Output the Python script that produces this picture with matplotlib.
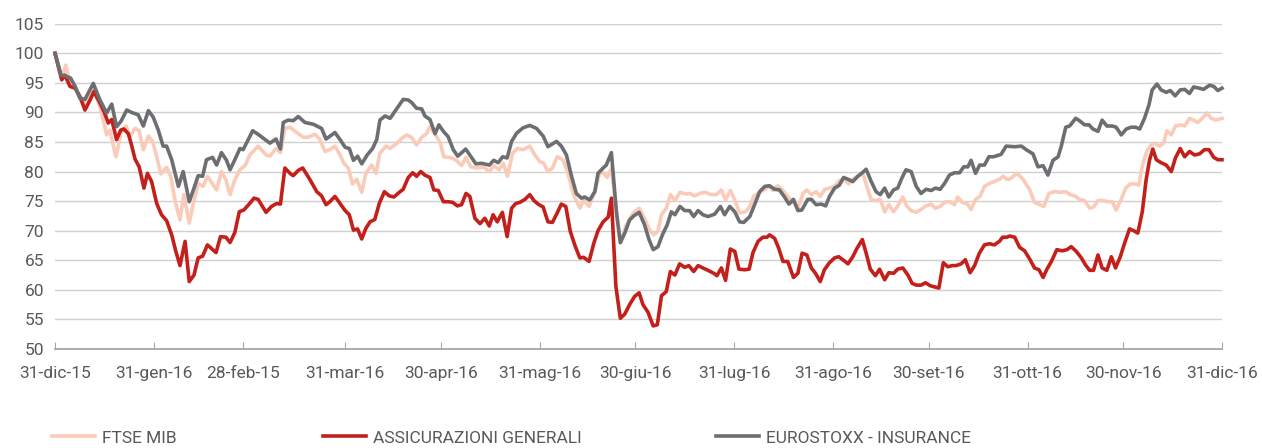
import numpy as np
import matplotlib
matplotlib.use('Agg')
import matplotlib.pyplot as plt
from matplotlib import font_manager

# day offsets from 31-dic-15 and index values (base 100)
ftse_days = [0, 2.1, 3.4, 4.5, 6.3, 8.4, 9.9, 12, 14.1, 16.2, 17.2, 19.1, 20.7, 22.3, 23.5, 25.1, 26.4, 27.7, 29.3, 30.6,
             31.9, 33.2, 35, 36.3, 37.6, 39.2, 40.4, 42.1, 43.4, 44.9, 46.5, 47.8, 50.7, 52.2, 53.6, 54.9, 56.4, 58, 59.6, 61.1,
             63.7, 66.2, 67.4, 69.3, 70.7, 72.1, 73.7, 75.3, 77.9, 79.4, 81.5, 83.1, 84.7, 86.2, 87.8, 89.4, 90.6, 92, 93.3, 94.6,
             96.2, 97.5, 99.3, 100.7, 101.9, 103.8, 105.1, 107.1, 108.7, 110.3, 111.8, 113.4, 115, 116.5, 117.6, 119.7, 120.9, 121.9, 123.9, 125.9,
             127.5, 128.9, 130.4, 132.2, 134.3, 136.2, 137.6, 139.3, 140.6, 141.9, 143.5, 145, 146.8, 148.9, 150.5, 152, 153.3, 154.6, 156, 157.5,
             159.3, 160.9, 162.5, 164.6, 165.8, 167.5, 169.3, 170.8, 171.9, 173.2, 174.5, 177.3, 179.2, 181.3, 183.2, 184.9, 186.5, 187.8, 189.1, 190.2,
             191.7, 193, 194.4, 196, 197.8, 199, 200.6, 202.2, 203.8, 205.9, 207.4, 209, 210.3, 211.8, 213.2, 214.7, 216.6, 217.9, 219.1, 221,
             222.6, 224.1, 225.1, 226.7, 228.3, 229.8, 231.4, 233, 234.6, 235.8, 237.2, 238.7, 240, 241.4, 242.9, 244.5, 246, 247.6, 248.9, 250.2,
             251.8, 253.4, 254.6, 256, 257.5, 258.8, 260.2, 261.5, 263, 264.3, 265.9, 267.1, 268.5, 270.1, 271.6, 273.2, 274.8, 276.1, 277.6, 279.3,
             280.7, 282.1, 283.1, 284.5, 286, 287.3, 288.7, 290.1, 291.5, 293.1, 294.6, 296.2, 297.4, 298.5, 299.4, 301.7, 303.6, 305.7, 307.2, 308.6,
             310.1, 311.7, 313.5, 315.1, 317, 318.4, 319.8, 321.3, 322.9, 324.5, 325.7, 327.1, 328.7, 330.2, 331.6, 332.8, 334.4, 335.8, 337.2, 338.9,
             339.9, 341.2, 342.4, 343.8, 344.9, 346.4, 347.7, 348.7, 350.1, 351.4, 353.2, 354.3, 355.8, 357.1, 358.4, 359.8, 361.3, 362.6, 364, 366]
ftse_vals = [100, 96, 98, 95.2, 94.4, 91.8, 91.5, 93.8, 91, 86.2, 87, 82.5, 86.5, 87.7, 85.9, 87.3, 86.9, 83.7, 86, 85.1,
             82.5, 79.6, 80.7, 79.2, 75.2, 71.8, 76.1, 71.3, 74.6, 78, 77.5, 79.2, 76.9, 80, 78.6, 76.1, 78.6, 80.3, 81, 82.8,
             84.3, 82.8, 82.6, 83.9, 83.2, 87.3, 87.5, 86.8, 85.8, 85.8, 86.3, 85.4, 83.4, 83.7, 84.3, 82.8, 81.4, 80.6, 77.9, 78.7,
             76.5, 79.7, 81.1, 79.7, 83.1, 84.3, 83.9, 84.7, 85.6, 86.2, 85.8, 84.5, 85.8, 86.4, 87.6, 85.9, 84.8, 82.5, 82.4, 81.9,
             81, 82.4, 80.8, 80.6, 80.8, 80, 81, 80.3, 81.4, 79.2, 83.1, 83.9, 83.7, 84.3, 82.8, 81.7, 81.4, 80, 80.6, 82.5,
             82, 79.7, 76.3, 73.8, 75.2, 74.1, 76.6, 79.7, 79.8, 79, 80.5, 67.9, 71, 73, 73.8, 72.1, 70.1, 69.3, 69.9, 72.7,
             73.8, 76.1, 75.1, 76.5, 76.2, 76.3, 75.9, 76.3, 76.5, 76.1, 76.1, 76.9, 75.2, 76.8, 75.2, 73, 73.2, 74.1, 75.8, 76.5,
             77, 77.5, 76.8, 77.6, 76.8, 75.8, 74.9, 73.8, 76.3, 76.9, 76.1, 76.6, 75.8, 77, 77.2, 77.5, 78.5, 78.6, 77.9, 78.7,
             79.3, 79.6, 77.5, 75.2, 75.1, 75.3, 73.2, 74.4, 73.2, 74.2, 75.7, 74.2, 73.4, 73.1, 73.6, 74.2, 74.5, 73.8, 74.1, 74.9,
             74.9, 74.4, 75.7, 74.8, 74.6, 73.6, 75.3, 75.8, 77.5, 78, 78.3, 78.7, 79.2, 78.7, 78.7, 79.7, 78.7, 76.9, 74.8, 74.5,
             74.1, 76.3, 76.6, 76.5, 76.6, 76.1, 75.9, 75.3, 75.1, 73.8, 74, 75.1, 75.1, 74.9, 74.9, 73.5, 75.3, 77.2, 77.9, 77.9,
             77.7, 81.4, 83.4, 84.5, 84.8, 84.3, 84.8, 86.9, 86.2, 87.7, 87.9, 87.7, 89, 88.7, 88.3, 89, 89.9, 89, 88.7, 89]

gen_days = [0, 2.1, 3.1, 4.7, 6.3, 7.8, 9.4, 11, 12.2, 13.9, 15.4, 16.7, 17.8, 19.3, 20.6, 21.6, 23, 24, 25.1, 26.4,
            27.9, 29, 30.3, 31.9, 33.4, 35, 36.6, 37.9, 39.2, 40.8, 42.1, 43.6, 44.9, 46.3, 47.8, 50.5, 51.9, 53.6, 54.9, 56.4,
            57.8, 59.2, 60.9, 62.4, 63.7, 66.2, 67.9, 69.5, 70.7, 72.1, 73.7, 74.7, 76.3, 77.7, 80, 82.1, 83.6, 85, 86.2, 87.8,
            89.4, 91, 92.3, 93.6, 94.9, 96.2, 97.5, 98.8, 100.3, 101.7, 103.3, 104.8, 106.3, 108, 109.2, 110.8, 112.2, 113.4, 114.7, 116,
            117.6, 118.8, 120.2, 121.8, 123.3, 124.7, 126.2, 127.5, 128.9, 130.1, 131.7, 133.3, 134.8, 136.2, 137.4, 138.7, 140.3, 141.8, 143.2, 144.5,
            145.8, 147.4, 148.9, 150.2, 151.5, 153.1, 154.6, 156, 157.5, 158.8, 160.2, 161.6, 163, 164.6, 165.8, 167.5, 169, 170.3, 171.9, 173.5,
            174.5, 175.9, 177.3, 178.7, 180.2, 181.8, 183.2, 184.4, 186, 187.6, 188.9, 190.2, 191.7, 193, 194.4, 195.9, 197.5, 198.8, 200.3, 201.7,
            203.2, 204.8, 206.6, 207.6, 209, 210.3, 211.8, 213.2, 214.5, 216.3, 217.7, 218.9, 220.5, 222, 223.3, 224.1, 225.7, 227, 228.3, 229.8,
            231.6, 233, 234.3, 235.8, 237.2, 238.5, 240, 241.3, 242.9, 244.5, 245.8, 247.3, 248.7, 250.2, 251.5, 253.2, 254.4, 255.7, 257.3, 258.6,
            260.2, 261.5, 263, 264.3, 265.9, 267.5, 268.8, 270.1, 271.6, 273, 274.5, 275.8, 277.2, 278.6, 280, 281.4, 282.6, 284.2, 285.5, 287,
            288.4, 289.9, 291.5, 293.1, 294.6, 296.2, 297.2, 298.5, 299.4, 301, 302.5, 304.1, 305.7, 307.2, 308.6, 309.9, 311.1, 312.5, 314.2, 315.9,
            317.4, 318.7, 320.3, 321.9, 323.2, 324.5, 325.7, 327.1, 328.4, 329.9, 331.3, 332.6, 334.1, 335.4, 337, 338.3, 339.6, 341, 342.2, 343.3,
            344.3, 345.4, 346.9, 348.5, 350.1, 351.4, 352.9, 354.3, 355.8, 357.4, 359, 360.5, 361.9, 363.4, 364.7, 366]
gen_vals = [100, 95.5, 96.3, 94.4, 94.1, 92.7, 90.4, 92.1, 93.5, 91.8, 90.1, 88.2, 88.8, 85.4, 87, 87.2, 86.4, 84.5, 82.1, 80.8,
            77.2, 79.7, 78.3, 74.6, 72.7, 71.7, 69.3, 66.5, 64.1, 68.2, 61.4, 62.5, 65.4, 65.7, 67.6, 66.3, 69, 68.9, 68, 69.7,
            73.2, 73.5, 74.5, 75.5, 75.3, 73.1, 74.1, 74.6, 74.5, 80.6, 79.7, 79.3, 80.2, 80.6, 78.6, 76.6, 75.9, 74.4, 74.9, 75.8,
            74.6, 73.4, 72.7, 70.1, 70.3, 68.6, 70.4, 71.5, 71.9, 74.6, 76.6, 75.9, 75.7, 76.5, 77, 79, 79.8, 79.2, 80, 79.4,
            79, 76.9, 76.8, 74.9, 74.9, 74.8, 74.2, 74.4, 76.3, 75.8, 72.1, 71.2, 72.1, 70.8, 72.7, 71.5, 73.1, 69, 73.8, 74.6,
            74.8, 75.3, 76.1, 75.1, 74.5, 74, 71.5, 71.4, 73, 74.5, 74.1, 69.9, 67.6, 65.4, 65.5, 64.8, 67.9, 70, 71.5, 72.3,
            75.5, 60.6, 55.2, 55.9, 57.5, 58.9, 59.5, 57.5, 56.2, 53.9, 54.1, 59, 59.7, 63.1, 62.5, 64.4, 63.8, 64.1, 63.1, 64.1,
            63.7, 63.3, 62.8, 62.4, 63.7, 61.6, 66.9, 66.5, 63.5, 63.4, 63.5, 66.3, 68.2, 68.9, 68.9, 69.3, 68.7, 67, 64.8, 64.8,
            62.1, 62.8, 66.2, 65.9, 63.7, 62.8, 61.4, 63.4, 64.6, 65.4, 65.6, 65, 64.4, 65.6, 67, 68.5, 66.2, 63.5, 62.4, 63.5,
            61.7, 62.9, 62.8, 63.5, 63.7, 62.5, 61.1, 60.8, 60.8, 61.2, 60.7, 60.5, 60.3, 64.6, 63.9, 64.1, 64.1, 64.4, 65.1, 62.9,
            64.1, 66.2, 67.6, 67.8, 67.6, 68.2, 68.9, 68.9, 69.1, 68.9, 67.2, 66.6, 65.2, 63.7, 63.4, 62.1, 63.5, 64.8, 66.8, 66.6,
            66.8, 67.3, 66.5, 65.4, 64.2, 63.3, 63.3, 65.9, 63.7, 63.3, 65.6, 63.7, 65.6, 67.8, 70.3, 70, 69.6, 73.2, 78.6, 82,
            83.8, 82, 81.5, 81.1, 80, 82.3, 83.9, 82.5, 83.4, 82.8, 83, 83.7, 83.7, 82.4, 82, 82]

ins_days = [0, 1.9, 3.1, 4.9, 6.3, 7.8, 9.4, 12, 14.1, 16.2, 17.8, 19.3, 20.7, 22.5, 24, 26.1, 27.7, 29.3, 30.8, 32.4,
            33.9, 35, 36.6, 38.7, 40.2, 42.1, 43.4, 44.9, 46.3, 47.5, 49.4, 50.7, 52.2, 53.8, 54.9, 56.4, 58, 59, 62, 63.7,
            67.4, 69.3, 70.7, 71.6, 73.1, 74.7, 76.3, 78.4, 81, 83.6, 85, 87.8, 89.4, 91, 92.3, 93.6, 94.9, 96.2, 97.9, 99.6,
            100.9, 101.9, 103.5, 105.1, 106.9, 109.2, 110.8, 111.8, 113.4, 115, 116, 117.6, 119.2, 120.4, 121.8, 123.3, 124.9, 126.3, 128.8, 130.1,
            132, 133.8, 136.2, 137.6, 139, 140.4, 141.8, 143.2, 144.8, 146.8, 148.9, 151, 153.1, 154.6, 157.3, 158.8, 160.4, 162, 163.5, 165.1,
            166.1, 167.7, 169.3, 170.3, 171.9, 172.9, 174.5, 176.1, 177.3, 178.7, 180.2, 181.5, 183.2, 184.9, 186.3, 187.6, 189.1, 190.5, 192, 193.3,
            194.4, 196, 197.5, 199, 200.3, 201.7, 203.2, 204.8, 206.9, 208.7, 210, 211.6, 213.2, 214.7, 216, 217.9, 219.4, 221, 222.6, 224.1,
            225.7, 227.2, 228.8, 230.2, 231.6, 233, 234.2, 236.1, 237.2, 238.7, 240.3, 241.7, 242.9, 244.5, 246, 247.3, 248.7, 250.2, 251.8, 253.2,
            254.4, 256, 257.5, 258.8, 260.2, 261.5, 263, 264.3, 265.6, 266.9, 268.5, 270.1, 271.6, 273.2, 274.8, 276.1, 277.6, 279, 280.5, 282.1,
            283.7, 285, 286.3, 287.3, 288.7, 290, 291.5, 292.9, 294.3, 296.7, 298.3, 301, 303.1, 304.6, 306.7, 308.3, 309.9, 311.4, 313, 314.6,
            315.6, 317, 318.2, 320.1, 321.3, 322.9, 324.3, 325.5, 327.1, 328.4, 329.9, 331.6, 332.8, 334.4, 336, 337.5, 338.9, 340.2, 341.7, 343.1,
            344.1, 345.6, 346.9, 348.5, 349.8, 351.3, 352.9, 354.3, 355.8, 357.1, 358.8, 360.2, 362.1, 363.4, 364.7, 366]
ins_vals = [100, 96.3, 96.2, 95.8, 94.4, 92.4, 92.2, 94.9, 92.1, 89.9, 91.4, 87.6, 88.5, 90.4, 90, 89.6, 87.7, 90.3, 89.2, 87,
            84.3, 84.3, 82, 77.5, 80, 74.9, 76.9, 79.3, 79.2, 82, 82.4, 81.1, 83.2, 81.9, 80.3, 82, 83.9, 83.7, 86.9, 86.3,
            84.8, 85.5, 83.8, 88.3, 88.7, 88.6, 89.3, 88.3, 88, 87.3, 85.5, 86.6, 85.4, 84.1, 83.9, 81.9, 82.6, 81.3, 82.8, 83.9,
            85.4, 88.7, 89.4, 89, 90.4, 92.2, 92.1, 91.7, 90.7, 90.6, 89.4, 88.8, 86.4, 87.9, 86.8, 85.9, 83.7, 82.6, 83.8, 82.8,
            81.3, 81.4, 81.1, 81.9, 81.5, 82.5, 82.3, 85.1, 86.5, 87.4, 87.8, 87.3, 86, 84.2, 85.1, 84.3, 82.8, 79.2, 76.3, 75.5,
            75.7, 75.2, 76.6, 79.7, 80.6, 81.1, 83.2, 73, 68, 69.6, 71.8, 72.5, 73.1, 71, 68.5, 66.8, 67.3, 69.3, 71, 73.2,
            72.7, 74.1, 73.4, 73.4, 72.4, 73.4, 72.7, 72.4, 72.8, 74.1, 72.7, 74.1, 73.2, 71.5, 71.4, 72.4, 74.4, 76.6, 77.5, 77.6,
            77, 76.9, 75.7, 74.5, 75.3, 73.4, 73.5, 75.3, 75.3, 74.4, 74.5, 74.2, 75.8, 77.2, 77.7, 79, 78.7, 78.3, 79.2, 79.8,
            80.4, 78.3, 76.6, 76.1, 77.2, 75.7, 76.9, 77.2, 78.9, 80.3, 80, 77.5, 76.3, 77, 76.8, 77.2, 77, 78, 79.4, 79.8,
            79.8, 80.8, 80.8, 81.9, 79.7, 81.1, 81.1, 82.5, 82.5, 82.9, 84.3, 84.2, 84.3, 83.7, 83, 80.8, 81, 79.4, 81.9, 82.5,
            84.3, 87.5, 87.7, 89, 88.6, 87.9, 87.9, 87.2, 86.8, 88.7, 87.7, 87.7, 87.5, 86.2, 87.2, 87.5, 87.5, 87.2, 89, 91.3,
            93.8, 94.8, 93.8, 93.4, 93.7, 92.8, 93.8, 93.9, 93.2, 94.3, 94.1, 93.9, 94.6, 94.4, 93.7, 94.1]

labels = ['FTSE MIB', 'ASSICURAZIONI GENERALI', 'EUROSTOXX - INSURANCE']
tick_dates = ['2015-12-31', '2016-01-31', '2016-02-28', '2016-03-31', '2016-04-30', '2016-05-31', '2016-06-30',
              '2016-07-31', '2016-08-31', '2016-09-30', '2016-10-31', '2016-11-30', '2016-12-31']
tick_labels = ['31-dic-15', '31-gen-16', '28-feb-15', '31-mar-16', '30-apr-16', '31-mag-16', '30-giu-16',
               '31-lug-16', '31-ago-16', '30-set-16', '31-ott-16', '30-nov-16', '31-dic-16']

start = np.datetime64('2015-12-31T00:00')


def to_dates(days):
    return start + (np.array(days) * 24 * 60).astype('timedelta64[m]')


available = {f.name for f in font_manager.fontManager.ttflist}
font = 'Liberation Sans Narrow' if 'Liberation Sans Narrow' in available else 'Roboto'
plt.rcParams['font.family'] = [font, 'DejaVu Sans']

grey_txt = '#595959'
colors = ['#FACBB8', '#C4201B', '#6D6E71']

fig = plt.figure(figsize=(12.62, 4.48), dpi=100)
ax = fig.add_axes([55 / 1262, 1 - 349 / 448, (1222 - 55) / 1262, (349 - 23.7) / 448])

series = [(ftse_days, ftse_vals), (gen_days, gen_vals), (ins_days, ins_vals)]
lines = []
for (d, v), c, lab in zip(series, colors, labels):
    ln, = ax.plot(to_dates(d), v, color=c, lw=2.6, label=lab, clip_on=False, zorder=3)
    lines.append(ln)

ax.set_ylim(50, 105)
ax.set_xlim(start, np.datetime64('2016-12-31T00:00'))
ax.set_yticks(np.arange(50, 106, 5))
ax.set_xticks(np.array(tick_dates, dtype='datetime64[m]'))
ax.set_xticklabels(tick_labels)
ax.grid(axis='y', color='#D0D0D0', lw=1)
ax.set_axisbelow(True)
for s in ['top', 'right', 'left']:
    ax.spines[s].set_visible(False)
ax.spines['bottom'].set_color('#A6A6A6')
ax.spines['bottom'].set_linewidth(1.3)
ax.tick_params(axis='y', length=0, pad=8, labelsize=12.5, labelcolor=grey_txt)
ax.tick_params(axis='x', direction='in', length=5, color='#A6A6A6', pad=12, labelsize=12.5, labelcolor=grey_txt)

# legend entries placed individually, like in the original
legend_x = [52, 323, 716]
for ln, lab, x in zip(lines, labels, legend_x):
    fig.legend([ln], [lab], loc='center left', bbox_to_anchor=(x / 1262, 1 - 438 / 448),
               frameon=False, borderpad=0, borderaxespad=0, handlelength=2.5, handletextpad=0.4,
               prop={'size': 12.5}, labelcolor=grey_txt)

fig.savefig('out.png', dpi=100)
